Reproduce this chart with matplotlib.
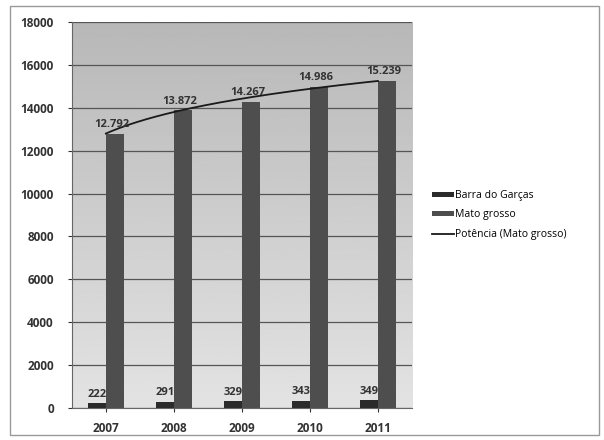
import numpy as np
import matplotlib
matplotlib.use("Agg")
import matplotlib.pyplot as plt

anos = ["2007", "2008", "2009", "2010", "2011"]
barra = [222, 291, 329, 343, 349]
mato = [12792, 13872, 14267, 14986, 15239]
rotulos_mato = ["12.792", "13.872", "14.267", "14.986", "15.239"]

plt.rcParams["font.family"] = ["Open Sans", "DejaVu Sans"]

fig = plt.figure(figsize=(6.04, 4.40), dpi=100)
fig.patch.set_facecolor("white")
# moldura do grafico
fig.add_artist(plt.Rectangle((0.017, 0.012), 0.975, 0.975, transform=fig.transFigure,
                             fill=False, edgecolor="#9a9a9a", linewidth=1.0))

ax = fig.add_axes([0.119, 0.073, 0.563, 0.877])

# fundo em degrade
grad = np.linspace(0.72, 0.89, 256).reshape(-1, 1)
ax.imshow(grad, cmap="gray", vmin=0, vmax=1, extent=[0, 1, 0, 1], transform=ax.transAxes,
          aspect="auto", zorder=0, origin="upper")

x = np.arange(len(anos))
w = 0.27
h1 = ax.bar(x - w / 2, barra, w, color="#2b2b2b", label="Barra do Garças", zorder=3)
h2 = ax.bar(x + w / 2, mato, w, color="#4e4e4e", label="Mato grosso", zorder=3)

# linha de tendencia (potencia)
b, ln_a = np.polyfit(np.log(x + 1), np.log(mato), 1)
xs = np.linspace(1, len(anos), 200)
h3, = ax.plot(xs - 1, np.exp(ln_a) * xs ** b, color="#1a1a1a", linewidth=1.3,
              label="Potência (Mato grosso)", zorder=4)

for i in range(len(anos)):
    ax.text(x[i] + w / 2 - 0.05, mato[i] + 180, rotulos_mato[i], ha="center", va="bottom",
            fontsize=8, fontweight="bold", color="#333333", zorder=5)
    ax.text(x[i] - w / 2, barra[i] + 150, str(barra[i]), ha="center", va="bottom",
            fontsize=8, fontweight="bold", color="#333333", zorder=5)

ax.set_xlim(-0.5, len(anos) - 0.5)
ax.set_ylim(0, 18000)
ax.set_yticks(range(0, 18001, 2000))
ax.set_xticks(x)
ax.set_xticklabels(anos)
ax.yaxis.grid(True, color="#555555", linewidth=0.9, zorder=1)
ax.set_axisbelow(True)
ax.tick_params(axis="both", labelsize=8.5, colors="#333333", length=3)
ax.tick_params(axis="y", pad=10)
ax.tick_params(axis="x", pad=7)
for lab in ax.get_xticklabels() + ax.get_yticklabels():
    lab.set_fontweight("bold")
for s in ["top", "right"]:
    ax.spines[s].set_visible(False)
ax.spines["left"].set_color("#666666")
ax.spines["bottom"].set_color("#666666")

ax.legend([h1, h2, h3], ["Barra do Garças", "Mato grosso", "Potência (Mato grosso)"],
          loc="center left", bbox_to_anchor=(1.03, 0.5), frameon=False, fontsize=7.5,
          handlelength=2.2, handleheight=0.4, labelspacing=0.8, handletextpad=0.1)

fig.savefig("out.png", dpi=100)
